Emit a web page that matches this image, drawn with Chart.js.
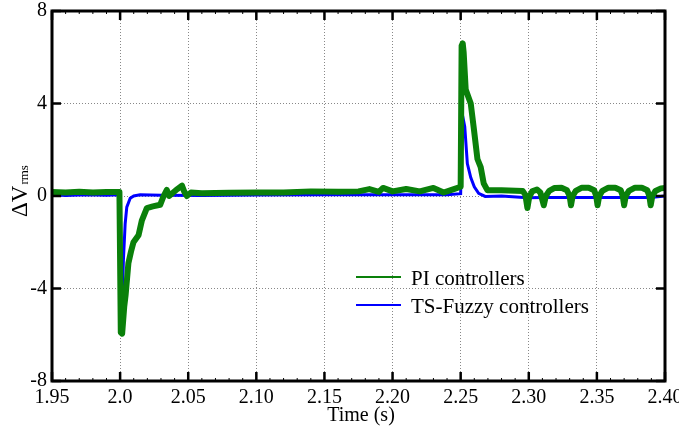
<!DOCTYPE html>
<html lang="en">
<head>
    <meta charset="UTF-8">
    <title>Delta Vrms - PI vs TS-Fuzzy</title>
    <script src="https://cdn.jsdelivr.net/npm/chart.js"></script>
    <style>
        body {
            margin: 0;
            background-color: #fff;
        }
        .wrap {
            width: 679px;
            height: 426px;
        }
    </style>
</head>
<body>
    <div class="wrap">
        <canvas id="vrmsChart" width="679" height="426"></canvas>
    </div>
    <script>
        // values
        const xTickLabels = ['1.95', '2.0', '2.05', '2.10', '2.15', '2.20', '2.25', '2.30', '2.35', '2.40'];
        const yTickLabels = ['-8', '-4', '0', '4', '8'];

        const piTime = [
            1.950, 1.960, 1.970, 1.980, 1.990, 1.9995, 2.0005, 2.0015, 2.0030, 2.0040,
            2.0061, 2.0080, 2.0098, 2.0135, 2.0160, 2.0196, 2.0240, 2.0294, 2.0316, 2.0343,
            2.0360, 2.0390, 2.0420, 2.0454, 2.0470, 2.0490, 2.0520, 2.060, 2.080, 2.100,
            2.120, 2.140, 2.160, 2.175, 2.183, 2.190, 2.193, 2.200, 2.210, 2.220,
            2.230, 2.2375, 2.245, 2.2500, 2.2507, 2.2515, 2.2522, 2.2537, 2.2574, 2.2598,
            2.2623, 2.2647, 2.2669, 2.2696, 2.280, 2.2955, 2.2975, 2.2990, 2.3003, 2.3025,
            2.306, 2.3085, 2.3110, 2.3125, 2.315, 2.319, 2.324, 2.328, 2.3300, 2.3310,
            2.3322, 2.3345, 2.339, 2.344, 2.348, 2.3495, 2.3505, 2.3517, 2.354, 2.3585,
            2.3635, 2.3675, 2.369, 2.3700, 2.3712, 2.3735, 2.378, 2.383, 2.387, 2.3885,
            2.3895, 2.3907, 2.393, 2.397, 2.400
        ];
        const piValues = [
            0.17, 0.15, 0.18, 0.15, 0.17, 0.17, -5.9, -5.95, -4.8, -4.3,
            -2.9, -2.4, -2.0, -1.7, -1.05, -0.52, -0.45, -0.38, -0.05, 0.26,
            0.0, 0.15, 0.3, 0.45, 0.2, 0.0, 0.15, 0.12, 0.14, 0.15,
            0.15, 0.2, 0.18, 0.2, 0.3, 0.18, 0.35, 0.2, 0.3, 0.2,
            0.35, 0.15, 0.3, 0.4, 6.5, 6.6, 6.2, 4.6, 4.0, 2.85,
            1.6, 1.25, 0.55, 0.25, 0.25, 0.22, 0.05, -0.52, -0.05, 0.2,
            0.28, 0.15, -0.4, 0.0, 0.22, 0.35, 0.36, 0.25, 0.0, -0.4,
            0.0, 0.22, 0.36, 0.36, 0.25, 0.0, -0.4, 0.0, 0.22, 0.36,
            0.36, 0.25, 0.0, -0.4, 0.0, 0.22, 0.36, 0.36, 0.25, 0.0,
            -0.4, 0.0, 0.22, 0.33, 0.35
        ];

        const fuzzyTime = [
            1.950, 1.960, 1.975, 1.990, 1.9995, 2.0005, 2.0012, 2.0024, 2.0037, 2.0049,
            2.0074, 2.0100, 2.0147, 2.030, 2.060, 2.100, 2.150, 2.200, 2.240, 2.2500,
            2.2510, 2.2530, 2.2549, 2.2574, 2.2600, 2.2632, 2.2680, 2.280, 2.299, 2.311,
            2.331, 2.3505, 2.370, 2.3895, 2.400
        ];
        const fuzzyValues = [
            0.05, 0.02, 0.05, 0.03, 0.05, -5.5, -5.0, -2.8, -1.2, -0.48,
            -0.1, 0.0, 0.05, 0.03, 0.02, 0.04, 0.05, 0.05, 0.05, 0.1,
            3.6, 3.0, 1.4, 0.8, 0.4, 0.12, -0.02, 0.0, -0.08, -0.06,
            -0.06, -0.06, -0.06, -0.06, 0.0
        ];

        const toPoints = (xs, ys) => xs.map((x, i) => ({ x: x, y: ys[i] }));
        const serif = '"Liberation Serif", "DejaVu Serif", serif';

        // frame, inward ticks, axis titles and legend
        const decorations = {
            id: 'decorations',
            afterDatasetsDraw(chart) {
                const ctx = chart.ctx;
                const a = chart.chartArea;
                const xs = chart.scales.x;
                const ys = chart.scales.y;
                ctx.save();
                ctx.strokeStyle = '#000';

                // major ticks pointing inward
                ctx.lineWidth = 2.5;
                xs.ticks.forEach(t => {
                    const px = xs.getPixelForValue(t.value);
                    ctx.beginPath();
                    ctx.moveTo(px, a.bottom); ctx.lineTo(px, a.bottom - 9);
                    ctx.moveTo(px, a.top); ctx.lineTo(px, a.top + 9);
                    ctx.stroke();
                });
                ys.ticks.forEach(t => {
                    const py = ys.getPixelForValue(t.value);
                    ctx.beginPath();
                    ctx.moveTo(a.left, py); ctx.lineTo(a.left + 9, py);
                    ctx.moveTo(a.right, py); ctx.lineTo(a.right - 9, py);
                    ctx.stroke();
                });
                // small minor ticks on x
                ctx.lineWidth = 1;
                for (let i = 0; i <= 45; i++) {
                    if (i % 5 === 0) continue;
                    const px = xs.getPixelForValue(1.95 + i * 0.01);
                    ctx.beginPath();
                    ctx.moveTo(px, a.bottom); ctx.lineTo(px, a.bottom - 3);
                    ctx.moveTo(px, a.top); ctx.lineTo(px, a.top + 3);
                    ctx.stroke();
                }

                // box
                ctx.lineWidth = 3;
                ctx.strokeRect(a.left, a.top, a.right - a.left, a.bottom - a.top);

                // y title: ΔV with rms subscript
                ctx.fillStyle = '#000';
                ctx.translate(27, 217);
                ctx.rotate(-Math.PI / 2);
                ctx.textAlign = 'left';
                ctx.textBaseline = 'alphabetic';
                ctx.font = '23px ' + serif;
                ctx.fillText('\u0394V', 0, 0);
                const w = ctx.measureText('\u0394V').width;
                ctx.font = '13px ' + serif;
                ctx.fillText('rms', w + 1, 1);
                ctx.setTransform(chart.currentDevicePixelRatio, 0, 0, chart.currentDevicePixelRatio, 0, 0);

                // x title
                ctx.font = '20px ' + serif;
                ctx.textAlign = 'center';
                ctx.fillText('Time (s)', 361, 421);

                // legend inside the plot
                const rows = [
                    { ds: chart.data.datasets[0], y: 278 },
                    { ds: chart.data.datasets[1], y: 306 }
                ];
                ctx.font = '21px ' + serif;
                ctx.textAlign = 'left';
                ctx.textBaseline = 'middle';
                rows.forEach(r => {
                    ctx.strokeStyle = r.ds.borderColor;
                    ctx.lineWidth = 2;
                    ctx.beginPath();
                    ctx.moveTo(356, r.y - 1);
                    ctx.lineTo(401, r.y - 1);
                    ctx.stroke();
                    ctx.fillText(r.ds.label, 411, r.y + 1);
                });
                ctx.restore();
            }
        };

        const ctx = document.getElementById('vrmsChart').getContext('2d');
        new Chart(ctx, {
            type: 'line',
            data: {
                datasets: [
                    {
                        label: 'PI controllers',
                        data: toPoints(piTime, piValues),
                        borderColor: '#0a800a',
                        borderWidth: 6,
                        pointRadius: 0,
                        tension: 0,
                        borderJoinStyle: 'round',
                        borderCapStyle: 'round',
                        order: 0
                    },
                    {
                        label: 'TS-Fuzzy controllers',
                        data: toPoints(fuzzyTime, fuzzyValues),
                        borderColor: '#0000ff',
                        borderWidth: 3,
                        pointRadius: 0,
                        tension: 0,
                        order: 1
                    }
                ]
            },
            options: {
                responsive: false,
                animation: false,
                layout: { padding: { top: 11, right: 14, left: 0, bottom: 0 } },
                plugins: {
                    legend: { display: false },
                    tooltip: { enabled: false }
                },
                scales: {
                    x: {
                        type: 'linear',
                        min: 1.95,
                        max: 2.40,
                        afterBuildTicks: scale => {
                            scale.ticks = xTickLabels.map(l => ({ value: parseFloat(l) }));
                        },
                        afterFit: scale => {
                            scale.height = 45;
                            scale.paddingLeft = 0;
                            scale.paddingRight = 0;
                        },
                        ticks: {
                            autoSkip: false,
                            maxRotation: 0,
                            padding: 5,
                            color: '#000',
                            font: { family: serif, size: 20 },
                            callback: (v, i) => xTickLabels[i]
                        },
                        grid: { drawTicks: false, color: '#888', lineWidth: 1 },
                        border: { display: false, dash: [1, 2] }
                    },
                    y: {
                        type: 'linear',
                        min: -8,
                        max: 8,
                        afterBuildTicks: scale => {
                            scale.ticks = yTickLabels.map(l => ({ value: parseFloat(l) }));
                        },
                        afterFit: scale => {
                            scale.width = 52;
                            scale.paddingTop = 0;
                            scale.paddingBottom = 0;
                        },
                        ticks: {
                            padding: 5,
                            color: '#000',
                            font: { family: serif, size: 20 },
                            callback: (v, i) => yTickLabels[i]
                        },
                        grid: { drawTicks: false, color: '#888', lineWidth: 1 },
                        border: { display: false, dash: [1, 2] }
                    }
                }
            },
            plugins: [decorations]
        });
    </script>
</body>
</html>
